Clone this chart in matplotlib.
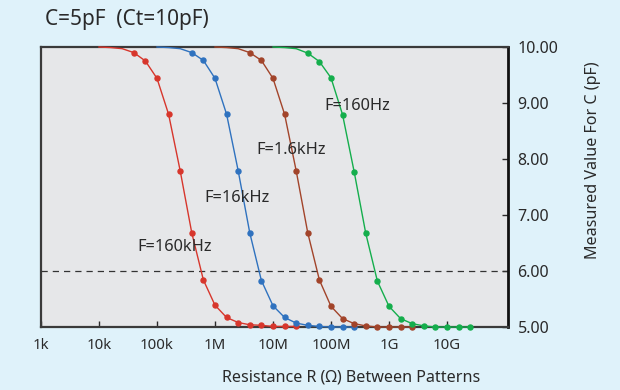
import matplotlib
matplotlib.use('Agg')
import matplotlib.pyplot as plt
import numpy as np

plt.rcParams['font.family'] = ['Noto Sans', 'DejaVu Sans']

# log10 of resistance for each series (0.2 decade steps); first 3 points are line-only lead-in
red_logr = [4.0, 4.2, 4.4, 4.6, 4.8, 5.0, 5.2, 5.4, 5.6, 5.8, 6.0, 6.2, 6.4, 6.6, 6.8, 7.0, 7.2, 7.4]
red_c = [10.0, 9.99, 9.97, 9.90, 9.75, 9.44, 8.80, 7.79, 6.68, 5.84, 5.39, 5.17, 5.08, 5.04, 5.03, 5.01, 5.01, 5.01]

blue_logr = [5.0, 5.2, 5.4, 5.6, 5.8, 6.0, 6.2, 6.4, 6.6, 6.8, 7.0, 7.2, 7.4, 7.6, 7.8, 8.0, 8.2, 8.4]
blue_c = [10.0, 9.99, 9.97, 9.90, 9.76, 9.44, 8.80, 7.79, 6.68, 5.83, 5.38, 5.17, 5.07, 5.03, 5.01, 5.0, 5.0, 5.0]

brown_logr = [6.0, 6.2, 6.4, 6.6, 6.8, 7.0, 7.2, 7.4, 7.6, 7.8, 8.0, 8.2, 8.4, 8.6, 8.8, 9.0, 9.2, 9.4]
brown_c = [10.0, 9.99, 9.97, 9.90, 9.76, 9.44, 8.80, 7.79, 6.68, 5.84, 5.37, 5.15, 5.06, 5.02, 5.0, 5.0, 5.0, 5.0]

green_logr = [7.0, 7.2, 7.4, 7.6, 7.8, 8.0, 8.2, 8.4, 8.6, 8.8, 9.0, 9.2, 9.4, 9.6, 9.8, 10.0, 10.2, 10.4]
green_c = [10.0, 9.99, 9.97, 9.89, 9.74, 9.45, 8.79, 7.77, 6.67, 5.82, 5.37, 5.15, 5.06, 5.02, 5.0, 5.0, 5.0, 5.0]

labels = ['F=160kHz', 'F=16kHz', 'F=1.6kHz', 'F=160Hz']
colors = ['#d7362c', '#2f72bf', '#a2442a', '#14ae4c']
label_pos = [(0.206, 0.287), (0.350, 0.462), (0.462, 0.632), (0.608, 0.791)]

xticks = [1e3, 1e4, 1e5, 1e6, 1e7, 1e8, 1e9, 1e10]
xticklabels = ['1k', '10k', '100k', '1M', '10M', '100M', '1G', '10G']
yticks = [5, 6, 7, 8, 9, 10]

fig = plt.figure(figsize=(6.2, 3.9), dpi=100, facecolor='#dff2fa')
ax = fig.add_axes([0.0661, 0.1615, 0.753, 0.718])
ax.set_facecolor('#e6e7e9')

series = [(red_logr, red_c), (blue_logr, blue_c), (brown_logr, brown_c), (green_logr, green_c)]
for (lr, c), col in zip(series, colors):
    r = 10 ** np.array(lr)
    ax.plot(r, c, color=col, lw=1.0, marker='o', ms=3.6, markevery=list(range(3, len(r))),
            clip_on=False, zorder=3)

ax.axhline(6.0, color='#333333', lw=0.9, ls=(0, (5, 4)), zorder=2)

for lab, (tx, ty) in zip(labels, label_pos):
    ax.text(tx, ty, lab, transform=ax.transAxes, ha='left', va='center', fontsize=11.8,
            color='#2a2a2a', zorder=4)

ax.set_xscale('log')
ax.set_xlim(1e3, 1.12e11)
ax.set_ylim(5.0, 10.0)
ax.set_xticks(xticks)
ax.set_xticklabels(xticklabels)
ax.minorticks_off()
ax.set_yticks(yticks)
ax.set_yticklabels(['%.2f' % v for v in yticks])
ax.yaxis.tick_right()
ax.tick_params(axis='x', direction='in', length=4, width=1, pad=8, labelsize=10.8, colors='#2a2a2a')
ax.tick_params(axis='y', direction='in', length=4, width=1, pad=7, labelsize=11.5, colors='#2a2a2a')

for side in ['left', 'top', 'bottom']:
    ax.spines[side].set_color('#3a3a3a')
    ax.spines[side].set_linewidth(1.6)
ax.spines['right'].set_color('#111111')
ax.spines['right'].set_linewidth(2.0)

fig.text(0.0726, 0.949, 'C=5pF  (Ct=10pF)', fontsize=15, color='#2a2a2a', ha='left', va='center')
fig.text(0.956, 0.59, 'Measured Value For C (pF)', rotation=90, fontsize=11.6, color='#2a2a2a',
         ha='center', va='center')
fig.text(0.566, 0.033, 'Resistance R (\u03a9) Between Patterns', fontsize=11.6, color='#2a2a2a',
         ha='center', va='center')

fig.savefig('out.png', dpi=100, facecolor=fig.get_facecolor())
